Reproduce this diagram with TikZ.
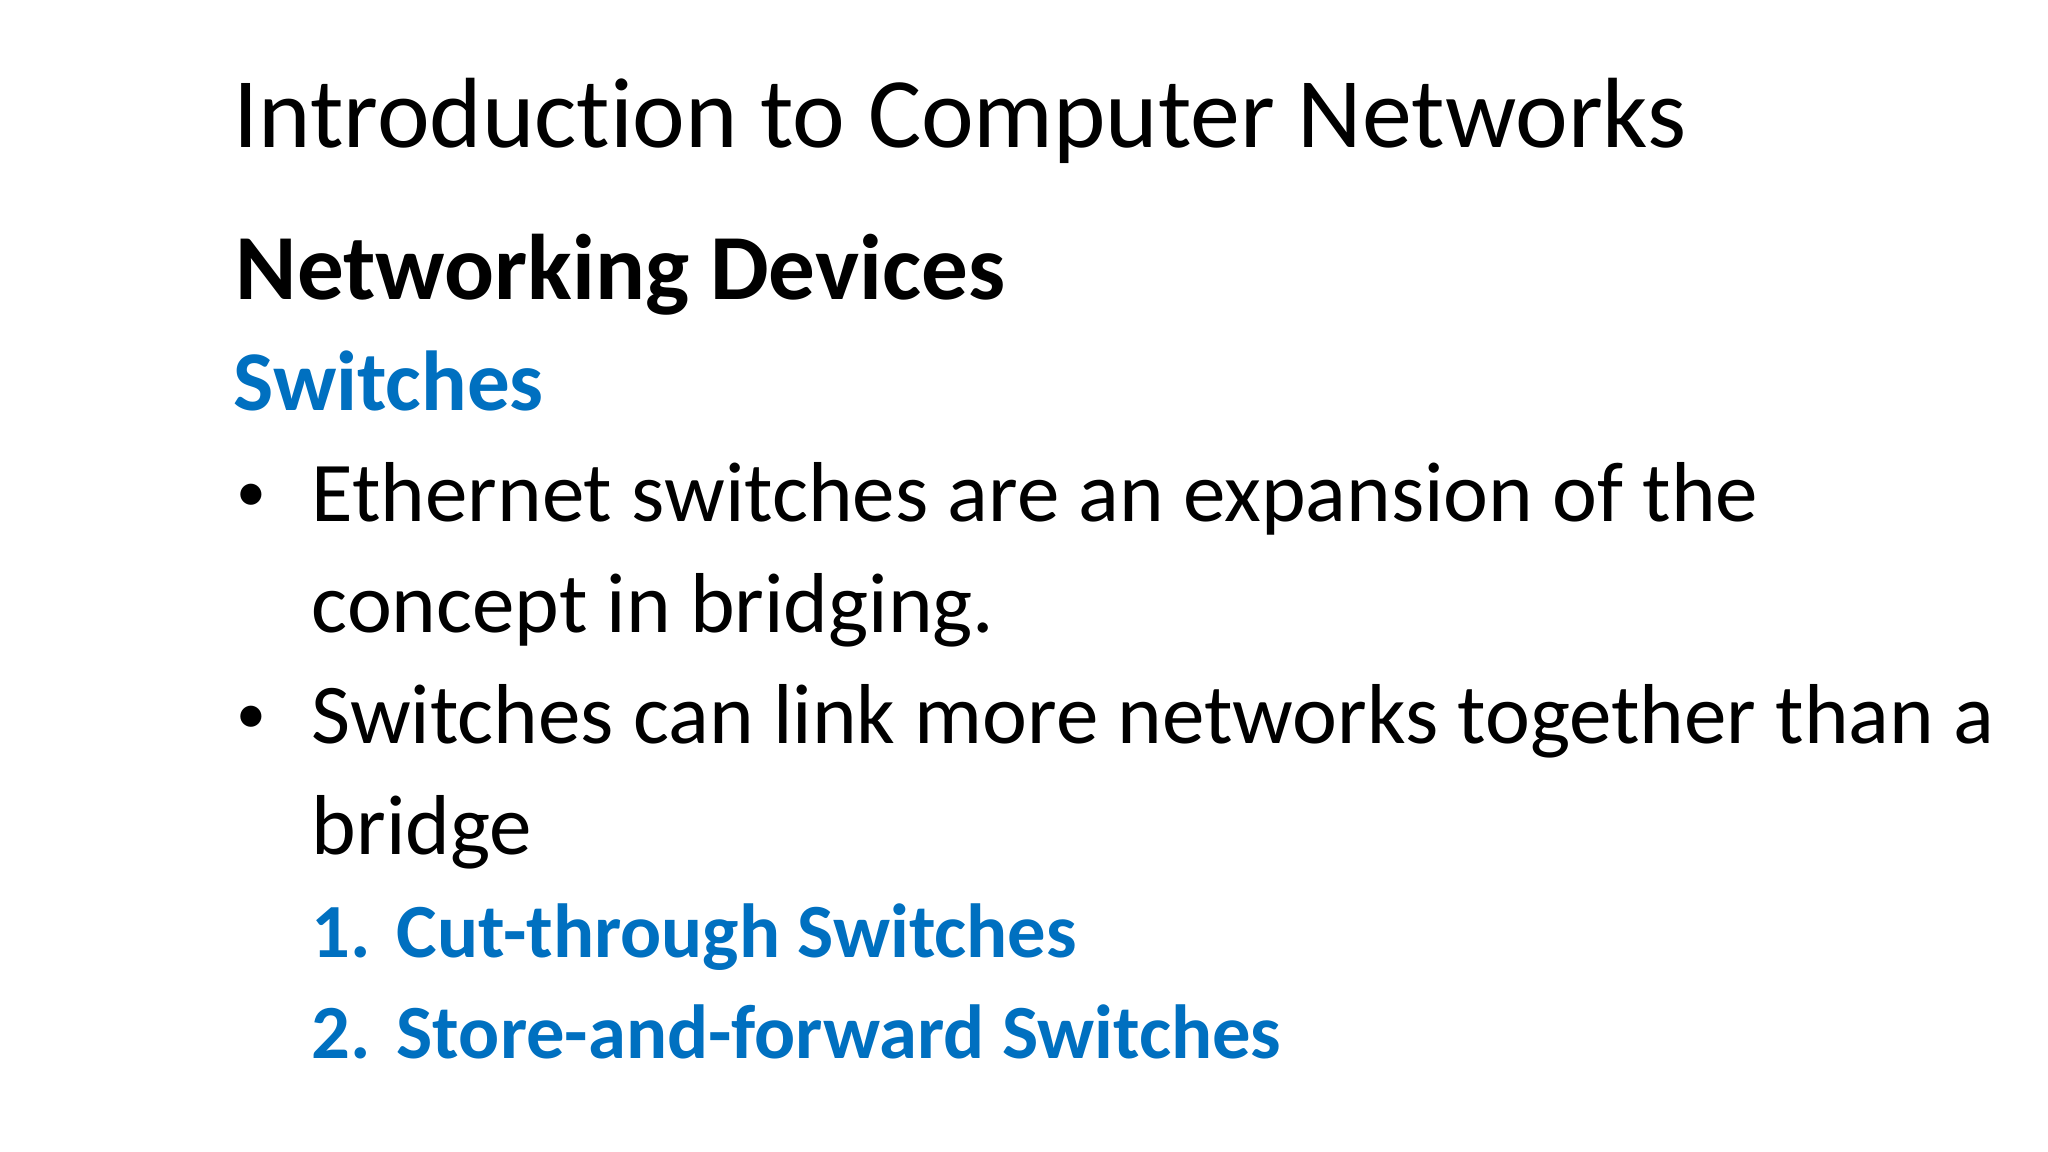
\documentclass[tikz,border=0pt]{standalone}
\usepackage{fontspec}
\setmainfont[Ligatures=NoCommon]{Carlito}
\definecolor{sblue}{RGB}{0,112,192}
\begin{document}
\begin{tikzpicture}[x=1cm,y=1cm,
  txt/.style={anchor=base west,inner sep=0pt,font=\fontsize{24.2}{28}\selectfont},
  bul/.style={anchor=base west,inner sep=0pt,font=\fontsize{17}{20}\selectfont},
  num/.style={anchor=base west,inner sep=0pt,font=\fontsize{21.8}{26}\selectfont\bfseries,text=sblue}]
\useasboundingbox[fill=white] (0,0) rectangle (20.48,-11.52);
\node[anchor=base west,inner sep=0pt,font=\fontsize{28.4}{34}\selectfont] (title) at (2.33,-1.476) {Introduction to Computer Networks};
\node[anchor=base west,inner sep=0pt,font=\fontsize{26.5}{32}\selectfont\bfseries] (h1) at (2.35,-3.00) {Networking Devices};
\node[anchor=base west,inner sep=0pt,font=\fontsize{24.2}{30}\selectfont\bfseries,text=sblue] (h2) at (2.33,-4.11) {Switches};
\node[bul] (b1) at (2.36,-5.12) {•};
\node[txt] (l1) at (3.11,-5.22) {Ethernet switches are an expansion of the};
\node[txt] (l2) at (3.11,-6.33) {concept in bridging.};
\node[bul] (b2) at (2.36,-7.34) {•};
\node[txt] (l3) at (3.11,-7.44) {Switches can link more networks together than a};
\node[txt] (l4) at (3.11,-8.55) {bridge};
\node[num] (n1) at (3.11,-9.57) {1.};
\node[num] (t1) at (3.96,-9.57) {Cut-through Switches};
\node[num] (n2) at (3.11,-10.58) {2.};
\node[num] (t2) at (3.96,-10.58) {Store-and-forward Switches};
\end{tikzpicture}
\end{document}
